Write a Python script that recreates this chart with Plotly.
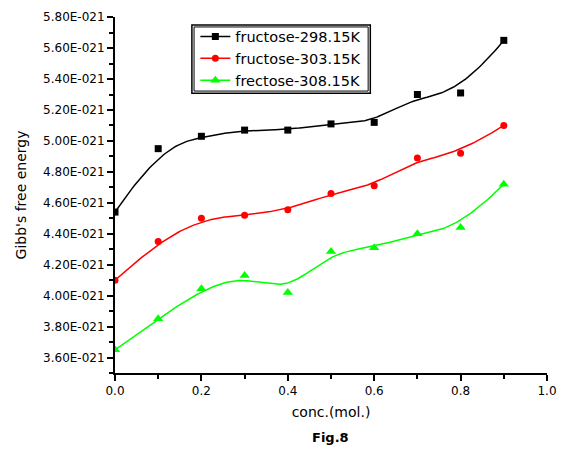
import numpy as np
import plotly.graph_objects as go

# ---- data (Gibb's free energy, in units of 1e-21) ----
conc = [0.0, 0.1, 0.2, 0.3, 0.4, 0.5, 0.6, 0.7, 0.8, 0.9]
g_298 = [4.54, 4.95, 5.03, 5.07, 5.07, 5.11, 5.12, 5.30, 5.31, 5.65]
g_303 = [4.10, 4.35, 4.50, 4.52, 4.555, 4.66, 4.71, 4.89, 4.92, 5.10]
g_308 = [3.65, 3.85, 4.045, 4.13, 4.02, 4.285, 4.31, 4.40, 4.44, 4.72]
series_names = ["fructose-298.15K", "fructose-303.15K", "frectose-308.15K"]
scale = 1e-21

y_tick_vals = [3.60, 3.80, 4.00, 4.20, 4.40, 4.60, 4.80, 5.00, 5.20, 5.40, 5.60, 5.80]
y_tick_text = [f"{v:.2f}E-021" for v in y_tick_vals]
x_tick_vals = [0.0, 0.2, 0.4, 0.6, 0.8, 1.0]
x_tick_text = ["0.0", "0.2", "0.4", "0.6", "0.8", "1.0"]


def bspline(xs, ys, n=300, p=3):
    """Clamped uniform cubic B-spline using the data points as control points."""
    P = np.column_stack([xs, ys]).astype(float)
    m = len(P)
    U = np.concatenate([np.zeros(p), np.arange(m - p + 1), np.full(p, m - p)]).astype(float)
    out = []
    for x in np.linspace(0, m - p, n):
        k = int(np.searchsorted(U, x, side="right") - 1)
        k = min(k, m - 1)
        d = [P[j + k - p].copy() for j in range(p + 1)]
        for r in range(1, p + 1):
            for j in range(p, r - 1, -1):
                den = U[j + 1 + k - r] - U[j + k - p]
                a = 0.0 if den == 0 else (x - U[j + k - p]) / den
                d[j] = (1 - a) * d[j - 1] + a * d[j]
        out.append(d[p])
    out = np.array(out)
    return out[:, 0], out[:, 1]


colors = ["#000000", "#FF0000", "#00FF00"]
symbols = ["square", "circle", "triangle-up"]
msizes = [7, 7, 9]

fig = go.Figure()
for vals, name, c, sym, ms in zip([g_298, g_303, g_308], series_names, colors, symbols, msizes):
    yv = [v * scale for v in vals]
    sx, sy = bspline(conc, yv)
    fig.add_trace(go.Scatter(x=sx, y=sy, mode="lines", line=dict(color=c, width=1.5),
                             showlegend=False, hoverinfo="skip"))
    fig.add_trace(go.Scatter(x=conc, y=yv, mode="markers", name=name,
                             marker=dict(color=c, symbol=sym, size=ms, line=dict(width=0)),
                             showlegend=False))
    fig.add_trace(go.Scatter(x=[None], y=[None], mode="lines+markers", name=name,
                             line=dict(color=c, width=1.5),
                             marker=dict(color=c, symbol=sym, size=ms)))

font_family = "DejaVu Sans"

# page body has an 8px default margin, so the figure is sized to fit the window
fig.update_layout(
    width=558, height=441,
    margin=dict(l=107, r=19, t=9, b=76, autoexpand=False),
    paper_bgcolor="white", plot_bgcolor="white",
    font=dict(family=font_family, size=12, color="#000000"),
    xaxis=dict(
        range=[0, 1.0], tickvals=x_tick_vals, ticktext=x_tick_text, automargin=False,
        showgrid=False, zeroline=False, showline=True, linecolor="black", linewidth=2,
        ticks="outside", ticklen=6, tickwidth=1.5, tickcolor="black",
        minor=dict(dtick=0.1, ticks="outside", ticklen=4, tickwidth=1.5, tickcolor="black", showgrid=False),
        tickfont=dict(size=12, family=font_family),
        title=dict(text="conc.(mol.)", font=dict(size=14, family=font_family), standoff=10),
    ),
    yaxis=dict(
        range=[3.5e-21, 5.801e-21], automargin=False,
        tickvals=[v * scale for v in y_tick_vals], ticktext=y_tick_text,
        showgrid=False, zeroline=False, showline=True, linecolor="black", linewidth=2,
        ticks="outside", ticklen=6, tickwidth=1.5, tickcolor="black",
        minor=dict(dtick=0.1e-21, tick0=3.5e-21, ticks="outside", ticklen=4, tickwidth=1.5,
                   tickcolor="black", showgrid=False),
        tickfont=dict(size=12, family=font_family),
        title=dict(text="Gibb's free energy", font=dict(size=14, family=font_family), standoff=13),
    ),
    legend=dict(
        x=0.186, y=0.99, xanchor="left", yanchor="top",
        bgcolor="rgba(255,255,255,0)", borderwidth=0,
        font=dict(size=14.5, family=font_family),
        tracegroupgap=0, itemwidth=30,
    ),
    shapes=[
        dict(type="rect", xref="paper", yref="paper", x0=0.178, x1=0.591, y0=0.786, y1=0.9775,
             line=dict(color="black", width=1.5)),
        dict(type="rect", xref="paper", yref="paper", x0=0.183, x1=0.586, y0=0.792, y1=0.972,
             line=dict(color="black", width=1)),
    ],
    annotations=[
        dict(text="<b>Fig.8</b>", xref="paper", yref="paper", x=0.498, y=-0.181,
             xanchor="center", yanchor="middle", showarrow=False,
             font=dict(size=13, family=font_family)),
    ],
)

fig.write_html("out.html")
